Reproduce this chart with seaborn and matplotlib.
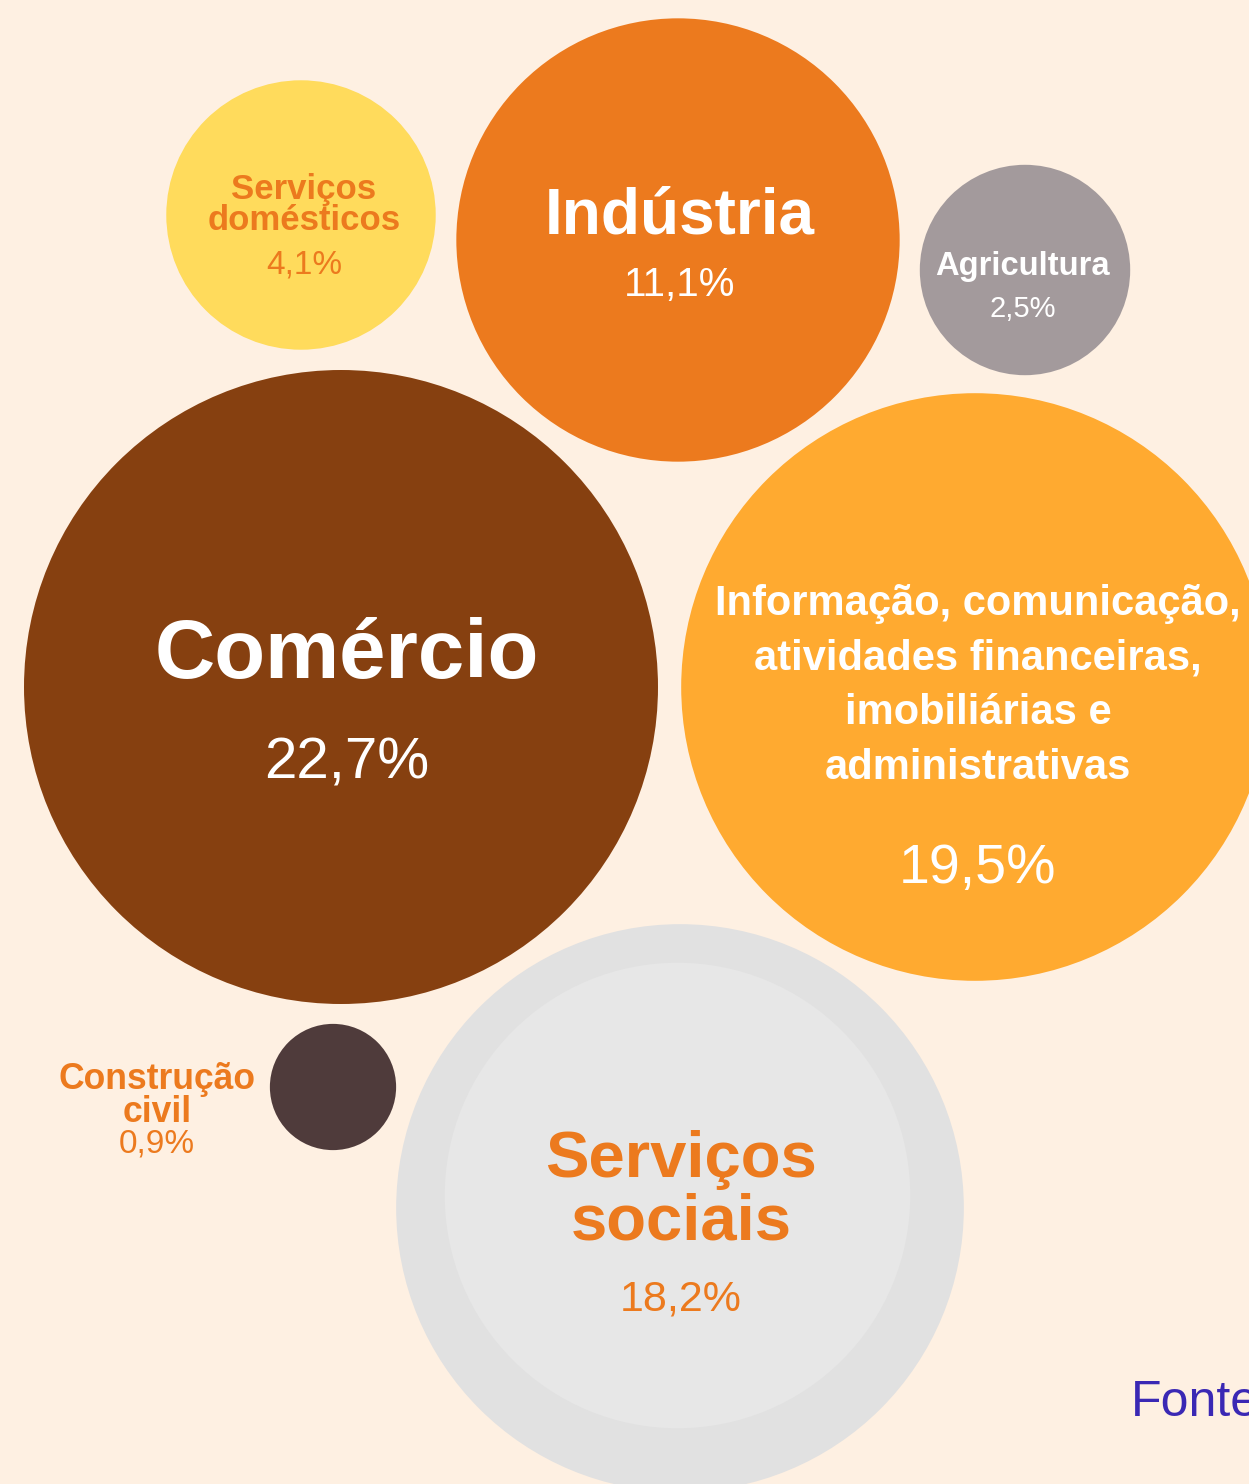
import pandas as pd
import matplotlib.pyplot as plt
import seaborn as sns

# data: share of employment by sector (%)
sectors = ['Serviços sociais', 'Comércio', 'Informação', 'Indústria',
           'Serviços domésticos', 'Agricultura', 'Construção civil']
shares = [18.2, 22.7, 19.5, 11.1, 4.1, 2.5, 0.9]
share_labels = ['18,2%', '22,7%', '19,5%', '11,1%', '4,1%', '2,5%', '0,9%']
titles = ['Serviços\nsociais', 'Comércio',
          'Informação, comunicação,\natividades financeiras,\nimobiliárias e\nadministrativas',
          'Indústria', 'Serviços\ndomésticos', 'Agricultura', 'Construção\ncivil']

# layout (pixel positions of bubble centres)
cx = [680, 341, 975, 678, 301, 1025, 333]
cy = [1208, 687, 687, 240, 215, 270, 1087]

colors = {'Serviços sociais': '#E1E1E1', 'Comércio': '#864010', 'Informação': '#FFAA30',
          'Indústria': '#EC7A1E', 'Serviços domésticos': '#FFDB5C',
          'Agricultura': '#A39A9C', 'Construção civil': '#4F3B3B'}

BG = '#FEF0E2'
ORANGE = '#EC7A1E'
W, H = 1249, 1484

df = pd.DataFrame({'sector': sectors, 'share': shares, 'x': cx, 'y': cy})

fig = plt.figure(figsize=(W / 100, H / 100), dpi=100, facecolor=BG)
ax = fig.add_axes([0, 0, 1, 1])
ax.set_facecolor(BG)

# bubble area proportional to share; largest bubble diameter 634 px
max_diam_pt = 634 * 72 / 100
smax = max_diam_pt ** 2
sns.scatterplot(data=df, x='x', y='y', hue='sector', palette=colors,
                size='share', sizes=(0, smax), size_norm=(0, max(shares)),
                linewidth=0, legend=False, ax=ax, zorder=2)

# lighter inner disc on "Serviços sociais"
s_soc = smax * shares[0] / max(shares)
ax.scatter([677], [1195], s=s_soc * 0.82 ** 2, color='#E7E7E7', linewidth=0, zorder=3)

ax.set_xlim(0, W)
ax.set_ylim(H, 0)
ax.axis('off')

font = 'Liberation Sans'

ax.text(681, 1191, titles[0], ha='center', va='center', fontsize=47, fontweight='bold',
        color=ORANGE, family=font, linespacing=1.05, zorder=4)
ax.text(681, 1299, share_labels[0], ha='center', va='center', fontsize=31, color=ORANGE, family=font, zorder=4)

ax.text(347, 656, titles[1], ha='center', va='center', fontsize=60, fontweight='bold',
        color='white', family=font, zorder=4)
ax.text(347, 764, share_labels[1], ha='center', va='center', fontsize=42, color='white', family=font, zorder=4)

ax.text(978, 686, titles[2], ha='center', va='center', fontsize=30, fontweight='bold',
        color='white', family=font, linespacing=1.47, zorder=4)
ax.text(978, 869, share_labels[2], ha='center', va='center', fontsize=40, color='white', family=font, zorder=4)

ax.text(680, 217, titles[3], ha='center', va='center', fontsize=46, fontweight='bold',
        color='white', family=font, zorder=4)
ax.text(680, 285, share_labels[3], ha='center', va='center', fontsize=29, color='white', family=font, zorder=4)

ax.text(304, 205, titles[4], ha='center', va='center', fontsize=25, fontweight='bold',
        color=ORANGE, family=font, linespacing=0.9, zorder=4)
ax.text(304, 265, share_labels[4], ha='center', va='center', fontsize=24, color=ORANGE, family=font, zorder=4)

ax.text(1023, 266, titles[5], ha='center', va='center', fontsize=23.6, fontweight='bold',
        color='white', family=font, zorder=4)
ax.text(1023, 309, share_labels[5], ha='center', va='center', fontsize=21, color='white', family=font, zorder=4)

ax.text(157, 1096, titles[6], ha='center', va='center', fontsize=25.6, fontweight='bold',
        color=ORANGE, family=font, linespacing=0.92, zorder=4)
ax.text(157, 1144, share_labels[6], ha='center', va='center', fontsize=24, color=ORANGE, family=font, zorder=4)

# source note, cut at the right edge as in the original
ax.text(1131, 1403, 'Fonte', ha='left', va='center', fontsize=36, color='#3A28B4', family=font, zorder=4)

fig.savefig('out.png', dpi=100, facecolor=BG)
